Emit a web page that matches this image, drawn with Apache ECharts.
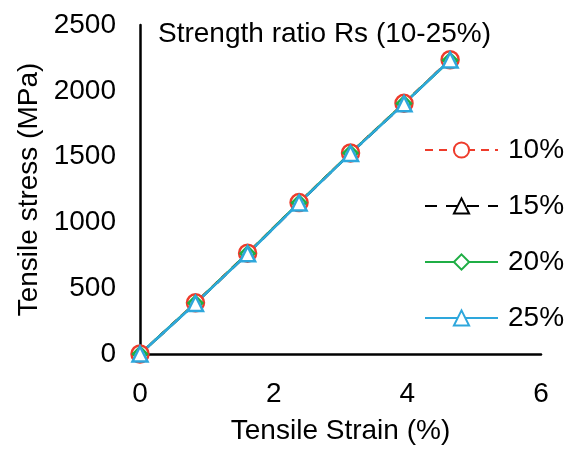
<!DOCTYPE html>
<html>
<head>
<meta charset="utf-8">
<script src="https://cdn.jsdelivr.net/npm/echarts@6/dist/echarts.min.js"></script>
<style>
	html, body { margin: 0; padding: 0; background: #fff; }
	#chart { width: 568px; height: 450px; }
</style>
</head>
<body>
<div id="chart"></div>
<script>
// 数据
var seriesNames = ["10%", "15%", "20%", "25%"];
var strain10 = [0, 0.83, 1.61, 2.38, 3.15, 3.95, 4.64];
var stress10 = [0, 389, 766, 1151, 1528, 1905, 2236];
var strain15 = [0, 0.83, 1.61, 2.38, 3.15, 3.95, 4.64];
var stress15 = [0, 385, 762, 1148, 1525, 1902, 2236];
var strain20 = [0, 0.83, 1.61, 2.38, 3.15, 3.95, 4.64];
var stress20 = [0, 387, 764, 1150, 1527, 1904, 2232];
var strain25 = [0, 0.83, 1.61, 2.38, 3.15, 3.95, 4.64];
var stress25 = [0, 384, 761, 1147, 1524, 1901, 2234];
var xTicks = [0, 2, 4, 6];
var yTicks = [0, 500, 1000, 1500, 2000, 2500];

var font = "Liberation Sans";
var fs = 28;

function pairs(xs, ys){
	var out = [];
	for(var i = 0; i < xs.length; i++){
		out.push([xs[i], ys[i]]);
	}
	return out;
}

function makeSeries(name, xs, ys, color, symbol, size, dash){
	return {
		name: name,
		type: "line",
		data: pairs(xs, ys),
		symbol: symbol,
		symbolSize: size,
		showAllSymbol: true,
		itemStyle: { color: "#fff", borderColor: color, borderWidth: 2.5 },
		lineStyle: { color: color, width: 2.5, type: dash },
		emphasis: { disabled: true },
		animation: false
	};
}

var myChart = echarts.init(document.getElementById("chart"));
myChart.setOption({
	backgroundColor: "#fff",
	animation: false,
	title: {
		text: "Strength ratio Rs (10-25%)",
		left: 153,
		top: 15,
		textStyle: { fontFamily: font, fontSize: fs, fontWeight: "normal", color: "#000" }
	},
	legend: {
		orient: "vertical",
		left: 419,
		top: 131,
		itemWidth: 73,
		itemHeight: 19,
		itemGap: 28,
		data: seriesNames,
		textStyle: { fontFamily: font, fontSize: fs, color: "#000", padding: [0, 0, 0, 5] }
	},
	grid: { left: 140, right: 27, top: 25, bottom: 95 },
	xAxis: {
		type: "value",
		min: xTicks[0],
		max: xTicks[xTicks.length - 1],
		interval: 2,
		name: "Tensile Strain (%)",
		nameLocation: "middle",
		nameGap: 63,
		nameTextStyle: { fontFamily: font, fontSize: fs, color: "#000" },
		axisLine: { onZero: false, lineStyle: { color: "#000", width: 2.5 } },
		axisTick: { show: false },
		splitLine: { show: false },
		axisLabel: { fontFamily: font, fontSize: fs, color: "#000", margin: 26 }
	},
	yAxis: {
		type: "value",
		min: yTicks[0],
		max: yTicks[yTicks.length - 1],
		interval: 500,
		name: "Tensile stress (MPa)",
		nameLocation: "middle",
		nameGap: 90,
		nameTextStyle: { fontFamily: font, fontSize: fs, color: "#000" },
		axisLine: { show: true, onZero: false, lineStyle: { color: "#000", width: 2.5 } },
		axisTick: { show: false },
		splitLine: { show: false },
		axisLabel: {
			fontFamily: font, fontSize: fs, color: "#000", margin: 24,
			formatter: function(v){ return String(v); }
		}
	},
	series: [
		makeSeries(seriesNames[0], strain10, stress10, "#ee3b2b", "circle", 17, [8, 6]),
		makeSeries(seriesNames[1], strain15, stress15, "#000000", "triangle", 9, [12, 9]),
		makeSeries(seriesNames[2], strain20, stress20, "#1fae45", "diamond", 14, "solid"),
		makeSeries(seriesNames[3], strain25, stress25, "#2ea7dc", "triangle", 15, "solid")
	]
});
</script>
</body>
</html>
